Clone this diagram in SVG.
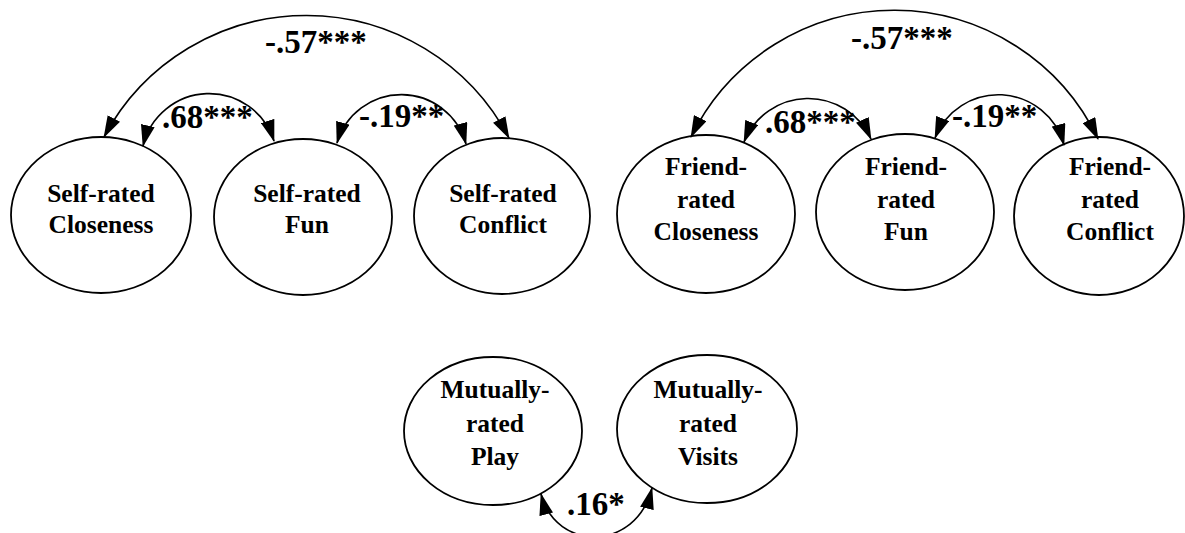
<svg xmlns="http://www.w3.org/2000/svg" width="1185" height="533" viewBox="0 0 1185 533">
  <defs>
    <!-- solid triangular arrowhead used at both ends of every correlation arc -->
    <marker id="ah" markerUnits="userSpaceOnUse" viewBox="0 0 22 14" markerWidth="22" markerHeight="14" refX="21" refY="7" orient="auto-start-reverse">
      <path d="M0,0 L22,7 L0,14 Z" fill="#000"/>
    </marker>
  </defs>
  <style>
    .node ellipse { fill: #fff; stroke: #000; stroke-width: 1.8; }
    .node text { font-family: "Liberation Serif", "Times New Roman", serif; font-weight: bold; font-size: 25.5px; text-anchor: middle; fill: #000; }
    .conn path { fill: none; stroke: #000; stroke-width: 1.6; marker-start: url(#ah); marker-end: url(#ah); }
    .lbl { font-family: "Liberation Serif", "Times New Roman", serif; font-weight: bold; font-size: 33px; fill: #000; }
  </style>
  <rect width="1185" height="533" fill="#fff"/>

  <!-- self-rated constructs -->
  <g id="self-closeness" class="node">
    <ellipse cx="101" cy="215" rx="90" ry="78"/>
    <text x="101" y="202">Self-rated</text>
    <text x="101" y="233">Closeness</text>
  </g>
  <g id="self-fun" class="node">
    <ellipse cx="303" cy="217" rx="89" ry="78"/>
    <text x="307" y="202">Self-rated</text>
    <text x="307" y="233">Fun</text>
  </g>
  <g id="self-conflict" class="node">
    <ellipse cx="502" cy="216" rx="88" ry="78"/>
    <text x="503" y="202">Self-rated</text>
    <text x="503" y="233">Conflict</text>
  </g>

  <!-- friend-rated constructs -->
  <g id="friend-closeness" class="node">
    <ellipse cx="706" cy="214" rx="89" ry="79"/>
    <text x="706" y="175">Friend-</text>
    <text x="706" y="208">rated</text>
    <text x="706" y="240">Closeness</text>
  </g>
  <g id="friend-fun" class="node">
    <ellipse cx="905" cy="212" rx="89" ry="78"/>
    <text x="906" y="175">Friend-</text>
    <text x="906" y="208">rated</text>
    <text x="906" y="240">Fun</text>
  </g>
  <g id="friend-conflict" class="node">
    <ellipse cx="1099" cy="216" rx="85" ry="79"/>
    <text x="1110" y="175">Friend-</text>
    <text x="1110" y="208">rated</text>
    <text x="1110" y="240">Conflict</text>
  </g>

  <!-- mutually-rated constructs -->
  <g id="mutual-play" class="node">
    <ellipse cx="493" cy="431" rx="89" ry="74"/>
    <text x="495" y="398">Mutually-</text>
    <text x="495" y="432">rated</text>
    <text x="495" y="465">Play</text>
  </g>
  <g id="mutual-visits" class="node">
    <ellipse cx="707" cy="429" rx="90" ry="74"/>
    <text x="708" y="398">Mutually-</text>
    <text x="708" y="432">rated</text>
    <text x="708" y="465">Visits</text>
  </g>

  <!-- two-headed correlation arcs -->
  <g id="connectors" class="conn">
    <path d="M104,137 A229,229 0 0 1 509,138"/>
    <path d="M143,146 A68,68 0 0 1 274,141"/>
    <path d="M337,143 A67,67 0 0 1 466,144"/>
    <path d="M691,137 A226,226 0 0 1 1098,139"/>
    <path d="M744,142 A69,69 0 0 1 871,139"/>
    <path d="M935,138 A68,68 0 0 1 1064,145"/>
    <path d="M541,494 C556,552 636,552 652,488"/>
  </g>

  <!-- correlation coefficients -->
  <g id="labels">
    <text class="lbl" x="265" y="53">-.57***</text>
    <text class="lbl" x="162" y="128">.68***</text>
    <text class="lbl" x="359" y="127">-.19**</text>
    <text class="lbl" x="851" y="49">-.57***</text>
    <text class="lbl" x="765" y="133">.68***</text>
    <text class="lbl" x="952" y="127">-.19**</text>
    <text class="lbl" x="567" y="515">.16*</text>
  </g>
</svg>
